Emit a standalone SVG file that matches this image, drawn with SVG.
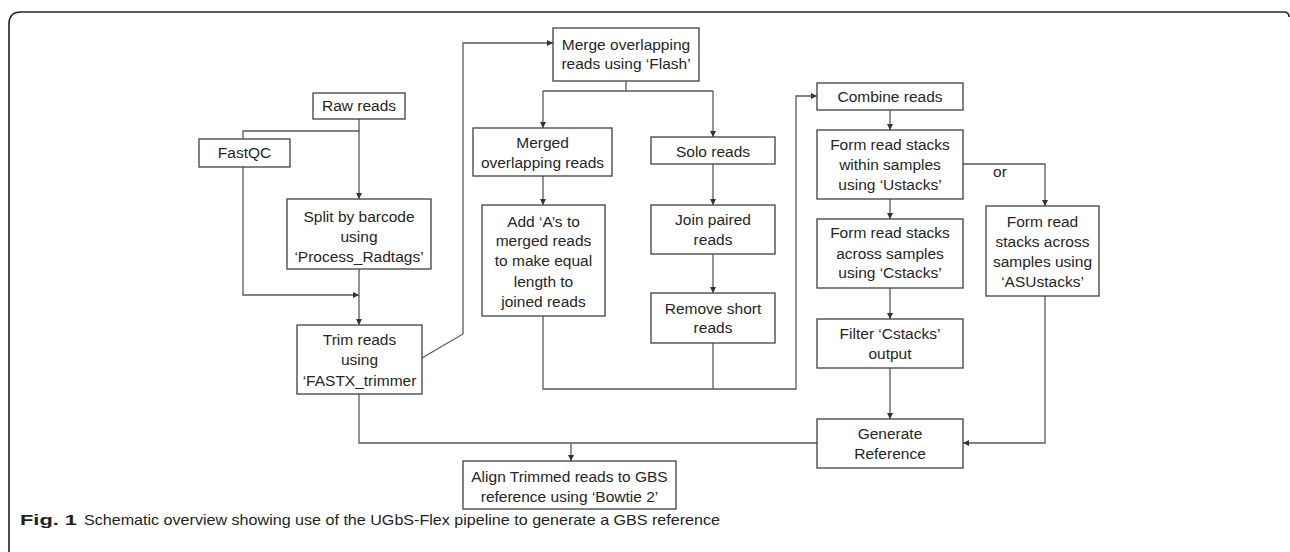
<svg xmlns="http://www.w3.org/2000/svg" width="1290" height="552" viewBox="0 0 1290 552">
<style>
.box{fill:#fff;stroke:#404040;stroke-width:1.3}
.t{font-family:"Liberation Sans",Arial,sans-serif;font-size:15.5px;fill:#262626;text-anchor:middle}
.c{fill:none;stroke:#5a5a5a;stroke-width:1.3}
.cap{font-family:"Liberation Sans",Arial,sans-serif;font-size:15px;fill:#231f20}
</style>
<defs>
<marker id="ah" markerWidth="6" markerHeight="6" refX="6" refY="3" orient="auto" markerUnits="userSpaceOnUse">
<path d="M0,0 L6,3 L0,6 z" fill="#333"/>
</marker>
</defs>
<rect width="1290" height="552" fill="#fff"/>
<path d="M9,552 V24 Q9,12 21,12 H1284 Q1289,12 1289,17" fill="none" stroke="#222" stroke-width="1.6"/>
<g id="connectors">
<path class="c" d="M359,119 V131 H243 V139"/>
<path class="c" d="M359,131 V199" marker-end="url(#ah)"/>
<path class="c" d="M243,167 V295 H359" marker-end="url(#ah)"/>
<path class="c" d="M359,269 V325" marker-end="url(#ah)"/>
<path class="c" d="M422,358 L463,334 V43 H553" marker-end="url(#ah)"/>
<path class="c" d="M626,81 V91 M543,91 H713"/>
<path class="c" d="M543,91 V128" marker-end="url(#ah)"/>
<path class="c" d="M713,91 V137" marker-end="url(#ah)"/>
<path class="c" d="M543,176 V205" marker-end="url(#ah)"/>
<path class="c" d="M713,164 V205" marker-end="url(#ah)"/>
<path class="c" d="M713,254 V293" marker-end="url(#ah)"/>
<path class="c" d="M713,343 V389"/>
<path class="c" d="M543,316 V389 H796 V96 H817" marker-end="url(#ah)"/>
<path class="c" d="M890,110 V130" marker-end="url(#ah)"/>
<path class="c" d="M890,199 V219" marker-end="url(#ah)"/>
<path class="c" d="M890,288 V319" marker-end="url(#ah)"/>
<path class="c" d="M890,368 V419" marker-end="url(#ah)"/>
<path class="c" d="M963,164 H1045 V206" marker-end="url(#ah)"/>
<path class="c" d="M1045,296 V443 H963" marker-end="url(#ah)"/>
<path class="c" d="M359,394 V443 H817"/>
<path class="c" d="M571,443 V461" marker-end="url(#ah)"/>
<text class="t" x="1000" y="177">or</text>
</g>
<g id="raw"><rect class="box" x="313" y="93" width="92" height="26"/><text class="t" x="359" y="111">Raw reads</text></g>
<g id="fastqc"><rect class="box" x="199" y="139" width="91" height="28"/><text class="t" x="244.5" y="158">FastQC</text></g>
<g id="split"><rect class="box" x="287" y="199" width="144" height="70"/><text class="t" x="359" y="222">Split by barcode</text><text class="t" x="359" y="242">using</text><text class="t" x="359" y="262">‘Process_Radtags’</text></g>
<g id="trim"><rect class="box" x="297" y="325" width="125" height="69"/><text class="t" x="359.5" y="345">Trim reads</text><text class="t" x="359.5" y="365">using</text><text class="t" x="359.5" y="386">‘FASTX_trimmer</text></g>
<g id="merge"><rect class="box" x="553" y="28" width="146" height="53"/><text class="t" x="626" y="50">Merge overlapping</text><text class="t" x="626" y="69">reads using ‘Flash’</text></g>
<g id="merged"><rect class="box" x="473" y="128" width="139" height="48"/><text class="t" x="542.5" y="148">Merged</text><text class="t" x="542.5" y="168">overlapping reads</text></g>
<g id="solo"><rect class="box" x="651" y="137" width="124" height="27"/><text class="t" x="713" y="157">Solo reads</text></g>
<g id="add"><rect class="box" x="482" y="205" width="123" height="111"/><text class="t" x="543.5" y="227">Add ‘A’s to</text><text class="t" x="543.5" y="246">merged reads</text><text class="t" x="543.5" y="266">to make equal</text><text class="t" x="543.5" y="287">length to</text><text class="t" x="543.5" y="307">joined reads</text></g>
<g id="join"><rect class="box" x="651" y="205" width="124" height="49"/><text class="t" x="713" y="225">Join paired</text><text class="t" x="713" y="245">reads</text></g>
<g id="remove"><rect class="box" x="651" y="293" width="124" height="50"/><text class="t" x="713" y="314">Remove short</text><text class="t" x="713" y="333">reads</text></g>
<g id="combine"><rect class="box" x="817" y="83" width="146" height="27"/><text class="t" x="890" y="102">Combine reads</text></g>
<g id="ustacks"><rect class="box" x="817" y="130" width="146" height="69"/><text class="t" x="890" y="150">Form read stacks</text><text class="t" x="890" y="170">within samples</text><text class="t" x="890" y="190">using ‘Ustacks’</text></g>
<g id="cstacks"><rect class="box" x="817" y="219" width="146" height="69"/><text class="t" x="890" y="238">Form read stacks</text><text class="t" x="890" y="259">across samples</text><text class="t" x="890" y="278">using ‘Cstacks’</text></g>
<g id="asustacks"><rect class="box" x="986" y="206" width="113" height="90"/><text class="t" x="1042.5" y="227">Form read</text><text class="t" x="1042.5" y="247">stacks across</text><text class="t" x="1042.5" y="267">samples using</text><text class="t" x="1042.5" y="287">‘ASUstacks’</text></g>
<g id="filter"><rect class="box" x="817" y="319" width="146" height="49"/><text class="t" x="890" y="339">Filter ‘Cstacks’</text><text class="t" x="890" y="359">output</text></g>
<g id="generate"><rect class="box" x="817" y="419" width="146" height="49"/><text class="t" x="890" y="439">Generate</text><text class="t" x="890" y="459">Reference</text></g>
<g id="align"><rect class="box" x="463" y="461" width="213" height="48"/><text class="t" x="569.5" y="482">Align Trimmed reads to GBS</text><text class="t" x="569.5" y="502">reference using ‘Bowtie 2’</text></g>
<text class="cap" x="20" y="525" font-weight="bold" textLength="57" lengthAdjust="spacingAndGlyphs">Fig. 1</text>
<text class="cap" x="84" y="525" textLength="636" lengthAdjust="spacingAndGlyphs">Schematic overview showing use of the UGbS-Flex pipeline to generate a GBS reference</text>
</svg>
